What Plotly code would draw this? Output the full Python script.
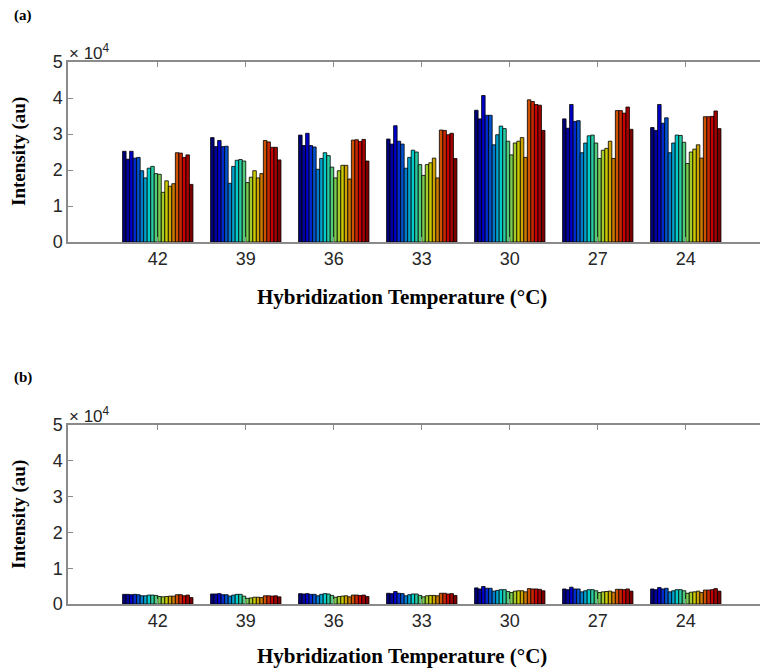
import plotly.graph_objects as go

temps = ["42", "39", "36", "33", "30", "27", "24"]
y_tick_vals = [0, 10000, 20000, 30000, 40000, 50000]
y_tick_text = ["0", "1", "2", "3", "4", "5"]

# Panel (a): intensity per probe (x1000 au), 20 probes per temperature
a_42 = [25.2, 23.0, 25.2, 23.3, 23.5, 19.8, 17.8, 20.5, 21.0, 19.0, 18.8, 13.8, 17.0, 15.5, 16.2, 24.8, 24.7, 23.5, 24.2, 16.0]
a_39 = [29.0, 26.5, 28.2, 26.5, 26.6, 16.3, 21.0, 22.7, 22.9, 22.5, 16.5, 18.0, 19.8, 17.8, 19.0, 28.2, 27.8, 26.3, 26.3, 22.8]
a_36 = [29.7, 26.8, 30.2, 26.8, 26.4, 20.2, 23.2, 24.8, 24.0, 20.8, 17.8, 19.8, 21.3, 21.3, 17.5, 28.3, 28.4, 27.9, 28.5, 22.5]
a_33 = [28.6, 27.2, 32.3, 28.0, 27.2, 20.5, 23.5, 25.5, 25.0, 21.5, 18.5, 21.5, 22.0, 23.3, 17.8, 31.1, 31.0, 29.8, 30.2, 23.2]
a_30 = [36.6, 34.2, 40.7, 35.2, 35.2, 27.0, 29.8, 32.2, 31.5, 28.0, 24.2, 27.5, 28.0, 29.0, 23.5, 39.5, 39.0, 38.2, 38.0, 31.0]
a_27 = [34.2, 31.6, 38.2, 33.5, 33.7, 24.8, 27.5, 29.5, 29.7, 27.5, 23.2, 25.5, 26.0, 28.0, 23.2, 36.5, 36.5, 35.8, 37.5, 31.3]
a_24 = [31.8, 31.0, 38.2, 33.0, 34.5, 24.8, 27.5, 29.7, 29.6, 27.7, 21.8, 25.0, 25.8, 27.0, 23.3, 34.8, 34.8, 34.9, 36.4, 31.5]

# Panel (b)
b_42 = [2.7, 2.7, 2.6, 2.7, 2.6, 2.3, 2.3, 2.5, 2.5, 2.4, 2.1, 2.0, 2.1, 2.2, 2.2, 2.6, 2.6, 2.3, 2.5, 1.8]
b_39 = [2.8, 2.8, 2.9, 2.6, 2.6, 2.2, 2.5, 2.7, 2.7, 2.2, 1.6, 1.7, 1.9, 1.9, 1.8, 2.3, 2.3, 2.2, 2.3, 2.0]
b_36 = [2.9, 2.8, 2.9, 2.7, 2.7, 2.3, 2.7, 2.9, 2.8, 2.4, 1.9, 2.1, 2.2, 2.3, 2.0, 2.5, 2.5, 2.4, 2.5, 2.1]
b_33 = [3.0, 2.9, 3.5, 3.0, 2.9, 2.3, 2.6, 2.8, 2.8, 2.4, 2.0, 2.3, 2.4, 2.4, 2.3, 3.0, 3.0, 2.8, 2.9, 2.4]
b_30 = [4.5, 4.2, 4.9, 4.4, 4.4, 3.6, 3.8, 4.0, 4.0, 3.5, 3.2, 3.6, 3.7, 3.7, 3.4, 4.3, 4.2, 4.2, 4.1, 3.7]
b_27 = [4.2, 4.0, 4.7, 4.2, 4.2, 3.4, 3.7, 4.0, 4.0, 3.7, 3.2, 3.4, 3.5, 3.6, 3.3, 4.1, 4.1, 4.0, 4.2, 3.6]
b_24 = [4.2, 4.0, 4.6, 4.2, 4.4, 3.4, 3.7, 4.0, 4.0, 3.7, 3.0, 3.3, 3.4, 3.6, 3.2, 3.9, 3.9, 4.0, 4.3, 3.6]

groups_a = [a_42, a_39, a_36, a_33, a_30, a_27, a_24]
groups_b = [b_42, b_39, b_36, b_33, b_30, b_27, b_24]

# jet(20) colormap
jet20 = [(0, 0, .6), (0, 0, .8), (0, 0, 1), (0, .2, 1), (0, .4, 1), (0, .6, 1), (0, .8, 1), (0, 1, 1),
         (.2, 1, .8), (.4, 1, .6), (.6, 1, .4), (.8, 1, .2), (1, 1, 0), (1, .8, 0), (1, .6, 0), (1, .4, 0),
         (1, .2, 0), (1, 0, 0), (.8, 0, 0), (.6, 0, 0)]
dark = 0.8
colors = ["rgb(%d,%d,%d)" % (r * 255 * dark, g * 255 * dark, b * 255 * dark) for r, g, b in jet20]

fig = go.Figure()
n = len(a_42)
for j in range(n):
    fig.add_trace(go.Bar(x=temps, y=[g[j] * 1000 for g in groups_a],
                         marker=dict(color=colors[j], line=dict(color="black", width=0.8)),
                         xaxis="x", yaxis="y", showlegend=False))
for j in range(n):
    fig.add_trace(go.Bar(x=temps, y=[g[j] * 1000 for g in groups_b],
                         marker=dict(color=colors[j], line=dict(color="black", width=0.8)),
                         xaxis="x2", yaxis="y2", showlegend=False))

# page offset of the figure div (body margin) is 8 px
OFF = 8
H = 671.0
L = 68 - OFF
PW = 768 - L
axcol = "#8a8a8a"
tickfont = dict(family="Liberation Sans, Arial", size=18, color="#262626")
xcommon = dict(type="category", range=[-1.02, -1.02 + PW / 88.0], showline=True, linecolor=axcol, linewidth=1.5,
               mirror="ticks", ticks="inside", ticklen=5, tickcolor=axcol, tickfont=tickfont,
               showgrid=False, zeroline=False, automargin=False)
ycommon = dict(range=[0, 50000], tickvals=y_tick_vals, ticktext=y_tick_text, showline=True, linecolor=axcol,
               linewidth=1.5, ticks="inside", ticklen=5, tickcolor=axcol, tickfont=tickfont,
               showgrid=False, zeroline=False, automargin=False)


def py(ypage):
    return 1 - (ypage - OFF) / H


def px(xpage):
    return (xpage - OFF - L) / PW


fig.update_layout(
    template="none",
    width=768, height=671, margin=dict(l=L, r=0, t=0, b=0, pad=0),
    plot_bgcolor="white", paper_bgcolor="white",
    barmode="group", bargap=0.2, bargroupgap=0,
    xaxis=dict(domain=[0, 1], anchor="y", **xcommon),
    yaxis=dict(domain=[py(242), py(62)], anchor="x", **ycommon),
    xaxis2=dict(domain=[0, 1], anchor="y2", **xcommon),
    yaxis2=dict(domain=[py(604), py(425)], anchor="x2", **ycommon),
)

title_font = dict(family="Liberation Serif, Times New Roman", size=21, color="black")
ylab_font = dict(family="Liberation Serif, Times New Roman", size=19, color="black")
ann = []
for label, ylab, ymid, ytitle in [("(a)", 15, 152, 297), ("(b)", 378, 515, 656)]:
    ann.append(dict(text="<b>%s</b>" % label, x=px(12), y=py(ylab), xref="paper", yref="paper",
                    xanchor="left", yanchor="middle", showarrow=False,
                    font=dict(family="Liberation Serif, Times New Roman", size=15, color="black")))
    ann.append(dict(text="<b>Intensity (au)</b>", x=px(19), y=py(ymid), xref="paper", yref="paper",
                    textangle=-90, xanchor="center", yanchor="middle", showarrow=False, font=ylab_font))
    ann.append(dict(text="<b>Hybridization Temperature (°C)</b>", x=px(402), y=py(ytitle), xref="paper",
                    yref="paper", xanchor="center", yanchor="middle", showarrow=False, font=title_font))
for ytop in [62, 425]:
    ann.append(dict(text="× 10<sup>4</sup>", x=px(67), y=py(ytop - 10), xref="paper", yref="paper",
                    xanchor="left", yanchor="middle", showarrow=False,
                    font=dict(family="Liberation Sans, Arial", size=17, color="#262626")))
fig.update_layout(annotations=ann)

fig.write_html("out.html")
